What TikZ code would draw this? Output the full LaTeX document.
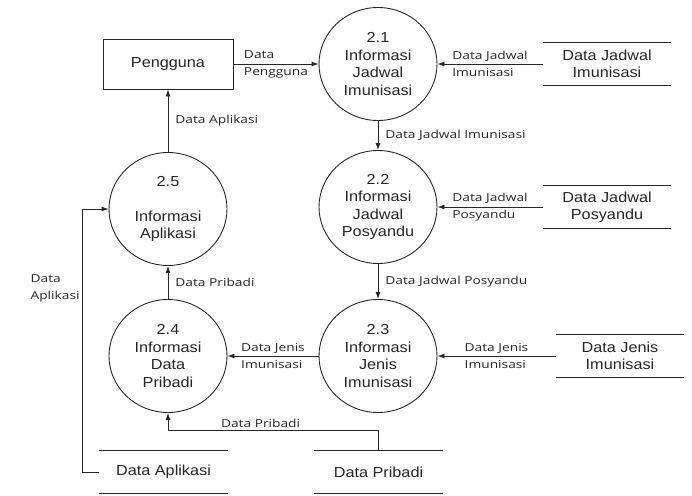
\documentclass[tikz,border=0pt]{standalone}
\usepackage{fontspec}
\usepackage{tikz}
\usetikzlibrary{arrows.meta,shapes.geometric}
\newfontfamily\procfnt[FakeStretch=1.12]{Liberation Sans}
\newfontfamily\flowfnt[FakeStretch=1.25]{Open Sans}
\tikzset{>={Latex[width=5pt,length=7pt]}}
\tikzset{
  proc/.style={ellipse, draw, minimum width=118pt, minimum height=113pt, inner sep=0pt,
    align=center, font=\procfnt\fontsize{14.5pt}{17.5pt}\selectfont},
  ent/.style={rectangle, draw, minimum width=130pt, minimum height=50pt,
    font=\procfnt\fontsize{14.5pt}{17.5pt}\selectfont},
  store/.style={rectangle, minimum width=128pt, minimum height=42pt, inner sep=0pt,
    align=center, font=\procfnt\fontsize{14.5pt}{17.5pt}\selectfont},
  lbl/.style={align=left, inner sep=2pt, font=\flowfnt\fontsize{11pt}{17pt}\selectfont},
  rlbl/.style={lbl, right, xshift=5pt},
}

\begin{document}
\begin{tikzpicture}[x=1pt, y=-1pt, line width=0.9pt, draw=black!85, text=black!85]

  \useasboundingbox (0,0) rectangle (692,495);

  % processes
  \node[proc] (p21) at (378,64)  {2.1\\Informasi\\Jadwal\\Imunisasi};
  \node[proc] (p22) at (378,207) {2.2\\Informasi\\Jadwal\\Posyandu};
  \node[proc] (p23) at (378,356) {2.3\\Informasi\\Jenis\\Imunisasi};
  \node[proc] (p24) at (168,356) {2.4\\Informasi\\Data\\Pribadi};
  \node[proc] (p25) at (168,209) {2.5\\ \\Informasi\\Aplikasi};

  % entity
  \node[ent] (peng) at (168,64) {Pengguna};

  % data stores
  \node[store] (djimun) at (607,64)    {Data Jadwal\\Imunisasi};
  \node[store] (djpos)  at (607,207)   {Data Jadwal\\Posyandu};
  \node[store] (djenis) at (620,356)   {Data Jenis\\Imunisasi};
  \node[store] (dapl)   at (163.5,472) {Data Aplikasi};
  \node[store] (dprib)  at (378.5,472) {Data Pribadi};
  \foreach \s in {djimun,djpos,djenis,dapl,dprib}
    \draw (\s.north west) -- (\s.north east) (\s.south west) -- (\s.south east);

  % flows
  \draw[->] (peng.east) -- node[lbl]{Data\\Pengguna} (p21.west); % Pengguna->2.1
  \draw[->] (djimun.west) -- node[lbl]{Data Jadwal\\Imunisasi} (p21.east);
  \draw[->] (p21.south) -- node[rlbl]{Data Jadwal Imunisasi} (p22.north); % 2.1->2.2
  \draw[->] (djpos.west) -- node[lbl]{Data Jadwal\\Posyandu} (p22.east);
  \draw[->] (p22.south) -- node[rlbl]{Data Jadwal Posyandu} (p23.north); % 2.2->2.3
  \draw[->] (djenis.west) -- node[lbl]{Data Jenis\\Imunisasi} (p23.east);
  \draw[->] (p23.west) -- node[lbl]{Data Jenis\\Imunisasi} (p24.east); % 2.3->2.4
  \draw[->] (p24.north) -- node[rlbl]{Data Pribadi} (p25.south); % 2.4->2.5
  \draw[->] (p25.north) -- node[rlbl]{Data Aplikasi} (peng.south); % 2.5->Pengguna
  \draw[->] (dprib.north) -- ++(0,-20) -| node[lbl, above, pos=0.28]{Data Pribadi} (p24.south);
  \draw[->] (dapl.west) -- ++(-17,0) |- node[lbl, left, pos=0.35]{Data\\Aplikasi} (p25.west);

\end{tikzpicture}
\end{document}
